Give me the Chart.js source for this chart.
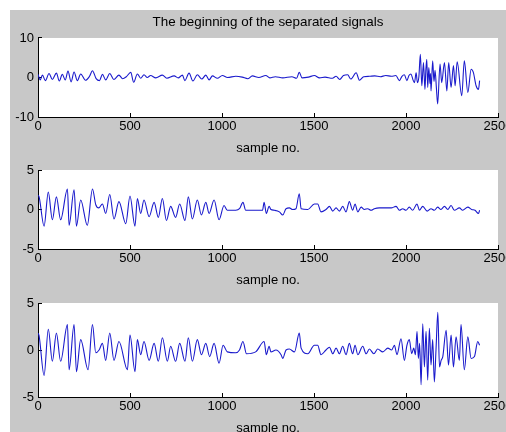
<!DOCTYPE html>
<html>
<head>
<meta charset="utf-8">
<script src="https://cdn.jsdelivr.net/npm/chart.js@4.4.0/dist/chart.umd.min.js"></script>
<style>
  html, body { margin: 0; padding: 0; background: #fff; overflow: hidden; }
  body { width: 506px; height: 432px; position: relative; }
  #figure { position: absolute; left: 10px; top: 10px; right: 0; bottom: 0; background: #c8c8c8; }
  canvas { position: absolute; left: 0; }
</style>
</head>
<body>
<div id="figure"></div>
<canvas id="plot1" width="506" height="160" style="top:0px"></canvas>
<canvas id="plot2" width="506" height="142" style="top:150px"></canvas>
<canvas id="plot3" width="506" height="157" style="top:283px"></canvas>
<script>
// axis setup
const titleText = 'The beginning of the separated signals';
const xLabel = 'sample no.';
const xMax = 2500;
const xStep = 500;
const yLimits = [10, 5, 5];

// separated signal 1 (sample no., value)
const s1Samples = [0, 12, 24, 40, 60, 78, 100, 116, 132, 148, 163, 180, 196, 214, 232, 258, 280, 296, 316, 334,
  350, 368, 390, 412, 440, 460, 480, 504, 520, 540, 558, 576, 594, 612, 640, 676, 700, 740, 762, 785,
  798, 821, 842, 866, 890, 912, 930, 948, 975, 1002, 1030, 1075, 1110, 1140, 1165, 1200, 1238, 1260, 1290, 1330,
  1380, 1405, 1420, 1435, 1470, 1502, 1530, 1560, 1600, 1620, 1640, 1660, 1683, 1700, 1729, 1747, 1770, 1800, 1830, 1860,
  1890, 1920, 1945, 1964, 1978, 1991, 2005, 2016, 2027, 2038, 2046, 2055, 2062, 2070, 2078, 2086, 2095, 2103, 2108, 2113,
  2118, 2124, 2130, 2133, 2136, 2145, 2152, 2158, 2165, 2172, 2185, 2194, 2209, 2222, 2232, 2245, 2258, 2267, 2278, 2303,
  2317, 2336, 2354, 2366, 2381, 2394, 2400];
const s1Values = [0.8, -0.6, 0.6, -0.8, 1.0, -0.5, 1.1, -0.9, 0.8, -0.6, 1.6, -1.1, 1.4, -0.8, 0.9, -0.7, 0.3, 1.7, -0.3, -0.8,
  0.8, -0.6, 1.0, -0.5, 0.6, -0.3, 0.2, 1.3, -1.2, 0.9, -0.2, 0.7, 0.0, 0.5, -0.1, 0.6, -0.2, 0.4, -0.1, 0.6,
  -0.8, 1.1, -0.9, 0.7, -0.4, 0.6, -0.6, 0.4, -0.2, 0.5, 0.0, 0.3, 0.1, -0.3, 0.4, 0.0, 0.5, -0.1, 0.2, -0.1,
  0.2, -0.2, 1.3, -0.1, 0.1, 0.5, -0.1, 0.1, -0.2, 0.3, -0.5, 0.5, 0.7, -0.4, 1.2, -0.7, 0.2, 0.3, 0.4, 0.2,
  0.5, 0.3, 0.5, -0.8, 0.3, 0.7, -0.8, 0.5, 0.9, -0.6, -1.3, 1.2, -1.3, 0.2, 5.9, -2.1, 3.8, -3.0, 2.0, 4.6,
  -2.5, 2.5, -1.5, 1.0, -3.4, 4.2, -1.0, 1.8, -2.5, -6.7, 3.4, -1.3, 3.8, -3.4, 3.8, -2.5, 3.0, -2.1, 4.0, -4.6,
  4.2, -3.8, 2.1, 1.3, -2.1, -3.0, -0.8];

// separated signal 2
const s2Samples = [0, 6, 33, 56, 78, 100, 123, 160, 169, 196, 209, 232, 268, 296, 314, 330, 350, 368, 390, 413,
  440, 477, 500, 527, 540, 558, 576, 604, 631, 654, 676, 698, 721, 748, 770, 799, 817, 839, 866, 888,
  912, 930, 957, 984, 1011, 1029, 1075, 1095, 1114, 1129, 1220, 1229, 1241, 1256, 1266, 1285, 1312, 1330, 1348, 1366,
  1384, 1402, 1420, 1430, 1466, 1502, 1520, 1538, 1565, 1584, 1602, 1620, 1638, 1656, 1674, 1692, 1710, 1723, 1738, 1756,
  1774, 1792, 1810, 1828, 1855, 1901, 1920, 1946, 1964, 1982, 2000, 2018, 2036, 2060, 2073, 2091, 2115, 2136, 2154, 2172,
  2190, 2209, 2227, 2245, 2263, 2290, 2308, 2336, 2357, 2375, 2394, 2400];
const s2Values = [1.8, 1.6, -2.1, 2.2, -1.3, 1.6, -1.3, 2.6, -2.0, 2.5, -2.1, 1.2, -2.0, 2.6, 0.6, 0.2, 0.7, -0.5, 1.9, -1.2,
  1.0, -1.8, 1.7, -2.1, 1.4, -0.5, 1.2, -0.9, 0.9, -1.0, 1.4, -1.4, 0.4, -1.0, 0.7, -1.4, 1.6, -1.2, 1.2, -0.7,
  0.9, -0.5, 1.2, -1.3, 0.5, -0.1, -0.1, 0.1, 0.9, -0.1, -0.1, 0.9, -0.5, 0.4, 0.0, -0.1, -0.3, -0.7, 0.1, 0.2,
  0.0, 0.1, 2.0, 0.1, 0.0, 0.7, 0.7, -0.3, 0.0, 0.4, -0.2, 0.2, -0.2, 0.4, -0.3, 1.0, -0.1, 0.7, -0.3, 0.3,
  0.0, 0.1, -0.1, 0.1, 0.2, 0.2, 0.2, 0.4, -0.1, 0.1, -0.1, 0.3, -0.1, 0.7, -0.1, 0.4, -0.2, 0.1, -0.1, 0.3,
  0.0, 0.4, 0.0, 0.5, -0.1, 0.2, -0.1, 0.3, 0.0, -0.1, -0.5, -0.1];

// separated signal 3
const s3Samples = [0, 6, 33, 56, 78, 100, 123, 160, 169, 196, 209, 232, 272, 296, 314, 332, 350, 368, 390, 413,
  440, 486, 500, 527, 540, 558, 576, 604, 631, 654, 676, 703, 721, 748, 770, 799, 817, 839, 866, 888,
  912, 933, 957, 984, 1006, 1029, 1075, 1095, 1114, 1133, 1183, 1229, 1241, 1256, 1266, 1293, 1321, 1330, 1348, 1366,
  1394, 1420, 1430, 1466, 1502, 1520, 1538, 1565, 1584, 1602, 1620, 1638, 1656, 1674, 1692, 1710, 1723, 1738, 1765, 1783,
  1801, 1825, 1846, 1874, 1901, 1922, 1937, 1951, 1973, 1991, 2005, 2018, 2031, 2042, 2051, 2060, 2067, 2074, 2082, 2091,
  2100, 2109, 2118, 2127, 2136, 2145, 2154, 2163, 2173, 2182, 2191, 2200, 2218, 2231, 2245, 2258, 2272, 2290, 2299, 2317,
  2336, 2354, 2372, 2390, 2400];
const s3Values = [1.8, 1.5, -2.7, 2.2, -1.2, 1.8, -1.2, 2.7, -2.1, 2.7, -2.3, 1.1, -2.1, 2.7, -0.3, 0.0, 0.7, -1.1, 1.8, -1.1,
  0.9, -2.1, 1.6, -2.3, 1.1, -0.5, 0.9, -1.1, 0.7, -1.2, 1.3, -1.2, 0.4, -1.2, 0.7, -1.2, 1.3, -1.2, 1.1, -0.5,
  0.7, -0.7, 0.7, -1.4, 0.5, -0.2, -0.3, 0.0, 0.9, -0.4, -0.2, 0.9, -0.5, 0.4, -0.2, 0.0, -0.5, -0.9, 0.0, 0.1,
  -0.2, 1.8, 0.2, -0.4, 0.5, 0.5, -0.5, 0.0, 0.3, -0.4, 0.2, -0.4, 0.4, -0.5, 0.7, -0.4, 0.5, -0.5, 0.4, -0.4,
  0.1, -0.4, 0.1, -0.2, 0.2, 0.0, 0.5, -0.5, 1.2, -1.1, 0.5, 1.1, -0.4, 0.2, -0.5, 2.0, -0.9, 0.7, -3.7, 2.8,
  -1.8, 2.0, -3.2, 2.3, -1.6, 1.1, -3.4, 0.0, 4.0, -1.8, -1.1, -0.7, 2.1, -1.6, 1.6, -1.8, 1.4, -1.1, 2.7, -2.1,
  1.4, -0.9, -0.7, 0.9, 0.5];

const lineColor = '#1a1acc';
const axisFont = { family: "'Liberation Sans', Arial, sans-serif", size: 13 };

// white axes box behind the trace, grey figure shows around it
const plotAreaFill = {
  id: 'plotAreaFill',
  beforeDraw: (chart) => {
    const { ctx, chartArea: { left, top, width, height } } = chart;
    ctx.save();
    ctx.fillStyle = '#ffffff';
    ctx.fillRect(left, top, width, height);
    ctx.restore();
  }
};

const makePlot = (canvasId, samples, values, yLimit, topPad, showTitle) => {
  const ctx = document.getElementById(canvasId).getContext('2d');
  const points = samples.map((s, i) => ({ x: s, y: values[i] }));
  return new Chart(ctx, {
    type: 'line',
    data: {
      datasets: [{
        data: points,
        borderColor: lineColor,
        borderWidth: 1.1,
        pointRadius: 0,
        cubicInterpolationMode: 'monotone',
        fill: false
      }]
    },
    options: {
      responsive: false,
      animation: false,
      events: [],
      layout: { padding: { top: topPad, left: 0, right: 8, bottom: 0 } },
      plugins: {
        legend: { display: false },
        tooltip: { enabled: false },
        title: {
          display: showTitle,
          text: titleText,
          color: '#000',
          font: { ...axisFont, size: 13.4, weight: 'normal' },
          fullSize: false,
          padding: { top: 14, bottom: 7.9 }
        }
      },
      scales: {
        x: {
          type: 'linear',
          min: 0,
          max: xMax,
          border: { display: true, color: '#000', width: 1 },
          grid: { drawOnChartArea: false, drawTicks: true, tickLength: -4, color: '#000' },
          ticks: {
            stepSize: xStep,
            padding: 6,
            color: '#000',
            maxRotation: 0,
            autoSkip: false,
            font: axisFont,
            callback: (v) => String(v)
          },
          title: { display: true, text: xLabel, color: '#000', font: axisFont, padding: { top: 0, bottom: 4 } },
          afterFit: (scale) => {
            scale.height = 43;
            scale.paddingLeft = 0;
            scale.paddingRight = 0;
          }
        },
        y: {
          min: -yLimit,
          max: yLimit,
          border: { display: true, color: '#000', width: 1 },
          grid: { drawOnChartArea: false, drawTicks: true, tickLength: -4, color: '#000' },
          ticks: {
            stepSize: yLimit,
            padding: 8,
            color: '#000',
            font: axisFont,
            callback: (v) => String(v)
          },
          afterFit: (scale) => {
            scale.width = 38;
            scale.paddingTop = 0;
            scale.paddingBottom = 0;
          }
        }
      }
    },
    plugins: [plotAreaFill]
  });
};

makePlot('plot1', s1Samples, s1Values, yLimits[0], 0, true);
makePlot('plot2', s2Samples, s2Values, yLimits[1], 20, false);
makePlot('plot3', s3Samples, s3Values, yLimits[2], 20, false);
</script>
</body>
</html>
